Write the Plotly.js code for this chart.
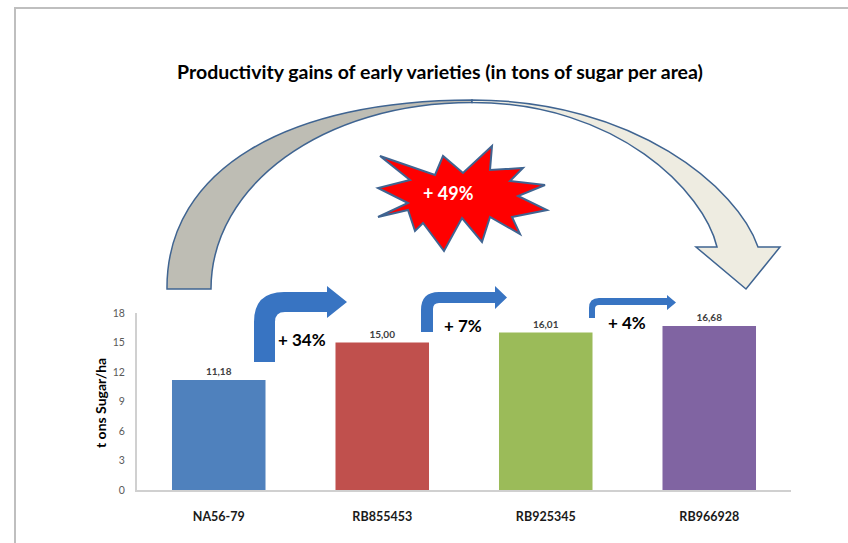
<!DOCTYPE html>
<html>
<head>
<meta charset="utf-8">
<script src="https://cdn.plot.ly/plotly-3.0.1.min.js"></script>
<style>
  html, body { margin: 0; padding: 0; background: #fff; }
  #chart { width: 848px; height: 543px; }
</style>
</head>
<body>
<div id="chart"></div>
<script>
// Early sugarcane varieties and their sugar yield (t/ha)
const varieties = ['NA56-79', 'RB855453', 'RB925345', 'RB966928'];
const sugarYield = [11.18, 15.00, 16.01, 16.68];
const barColors = ['#4F81BD', '#C0504D', '#9BBB59', '#8064A2'];
const yTicks = [0, 3, 6, 9, 12, 15, 18];

const W = 848, H = 543;
const FONT = 'Lato, "Open Sans", sans-serif';

// Pixel -> paper helpers (margins are zero, so paper == canvas)
const fx = x => x / W;
const fy = y => 1 - y / H;
function toPaper(d) {
  let i = 0;
  return d.replace(/-?\d+(\.\d+)?/g, n => (i++ % 2 === 0 ? fx(+n) : fy(+n)).toFixed(5));
}

// Value labels with a decimal comma
const valueLabels = sugarYield.map(v => v.toFixed(2).replace('.', ','));

// Relative gains between successive varieties and overall
const gain = (a, b) => '+ ' + Math.round((b / a - 1) * 100) + '%';
const stepGains = sugarYield.slice(1).map((v, i) => gain(sugarYield[i], v));
const totalGain = gain(sugarYield[0], sugarYield[sugarYield.length - 1]);

// Plot area in pixels
const PL = 137, PR = 791, PT = 313, PB = 490;

const trace = {
  type: 'bar',
  x: varieties,
  y: sugarYield,
  marker: { color: barColors },
  text: valueLabels,
  textposition: 'outside',
  cliponaxis: false,
  textfont: { family: FONT, size: 10, color: '#404040', weight: 'bold' },
  hoverinfo: 'x+y'
};

// Bent-up arrow outline between bars
function bentArrow(a) {
  const hc = (a.headTop + a.headBot) / 2;
  return `M ${a.x0} ${a.yb} L ${a.x0} ${a.top + a.ro} Q ${a.x0} ${a.top} ${a.x0 + a.ro} ${a.top} ` +
    `L ${a.hx} ${a.top} L ${a.hx} ${a.headTop} L ${a.tip} ${hc} L ${a.hx} ${a.headBot} ` +
    `L ${a.hx} ${a.bot} L ${a.x1 + a.ri} ${a.bot} Q ${a.x1} ${a.bot} ${a.x1} ${a.bot + a.ri} L ${a.x1} ${a.yb} Z`;
}
const stepArrows = [
  { x0: 254, x1: 275, yb: 362, top: 292, bot: 312, hx: 327, headTop: 286, headBot: 318, tip: 347, ro: 30, ri: 10 },
  { x0: 421, x1: 433, yb: 332, top: 292, bot: 303, hx: 495, headTop: 286, headBot: 309, tip: 507, ro: 18, ri: 6 },
  { x0: 589, x1: 595, yb: 318, top: 298, bot: 305, hx: 667, headTop: 295, headBot: 310, tip: 676, ro: 10, ri: 4 }
];
const stepLabelPos = [[302, 339], [463, 325], [627, 322]];

// Starburst vertices (outer, inner alternating)
const starPts = [
  [380, 156], [435, 175], [443, 156], [463, 173], [492, 146], [490, 170],
  [523, 168], [510, 181], [545, 185], [518, 196], [547, 210], [512, 217],
  [520, 234], [490, 217], [482, 242], [462, 218], [444, 251], [423, 223],
  [415, 231], [408, 210], [378, 217], [408, 203], [378, 188], [410, 180]
];
const starPath = 'M ' + starPts.map(p => p[0] + ' ' + p[1]).join(' L ') + ' Z';

// Large curved arrow: back face (left) and front face with head (right)
const arcBack = 'M 167 289 C 166 168 290 100 472 100 L 472 102.5 C 322 102.5 211 186 211 289 Z';
const arcFront = 'M 472 100 C 635 100 738 188 758 247 L 780 247 L 746 289 L 696 247 L 717 247 C 704 192 618 102.5 472 102.5 Z';

const outline = '#3F6491';
const shapes = [
  { type: 'path', xref: 'paper', yref: 'paper', path: toPaper('M 15 543 L 15 8 L 848 8'),
    line: { color: '#BFBFBF', width: 2 } },
  { type: 'path', xref: 'paper', yref: 'paper', path: toPaper(arcBack),
    fillcolor: '#BEBDB4', line: { color: outline, width: 1.5 } },
  { type: 'path', xref: 'paper', yref: 'paper', path: toPaper(arcFront),
    fillcolor: '#EEECE1', line: { color: outline, width: 1.5 } },
  { type: 'path', xref: 'paper', yref: 'paper', path: toPaper(starPath),
    fillcolor: '#FF0000', line: { color: outline, width: 2 } }
].concat(stepArrows.map(a => ({
  type: 'path', xref: 'paper', yref: 'paper', path: toPaper(bentArrow(a)),
  fillcolor: '#3874C2', line: { width: 0 }
})));

const annotations = [
  { text: 't ons Sugar/ha', x: fx(100), y: fy(403), xref: 'paper', yref: 'paper',
    textangle: -90, showarrow: false, xanchor: 'center', yanchor: 'middle',
    font: { family: FONT, size: 14, color: '#000', weight: 'bold' } },
  { text: totalGain, x: fx(449), y: fy(193), xref: 'paper', yref: 'paper',
    showarrow: false, xanchor: 'center', yanchor: 'middle',
    font: { family: FONT, size: 18, color: '#FFFFFF', weight: 'bold' } }
].concat(stepGains.map((g, i) => ({
  text: g, x: fx(stepLabelPos[i][0]), y: fy(stepLabelPos[i][1]), xref: 'paper', yref: 'paper',
  showarrow: false, xanchor: 'center', yanchor: 'middle',
  font: { family: FONT, size: 17, color: '#000', weight: 'bold' }
})));

const layout = {
  width: W, height: H, autosize: false,
  margin: { l: 0, r: 0, t: 0, b: 0, pad: 0 },
  paper_bgcolor: '#FFFFFF',
  plot_bgcolor: 'rgba(0,0,0,0)',
  showlegend: false,
  bargap: 0.428,
  title: {
    text: 'Productivity gains of early varieties (in tons of sugar per area)',
    x: fx(440), xanchor: 'center', xref: 'paper',
    y: fy(72), yanchor: 'middle', yref: 'container',
    font: { family: FONT, size: 19.5, color: '#000', weight: 'bold' }
  },
  xaxis: {
    domain: [fx(PL), fx(PR)],
    type: 'category', range: [-0.5, 3.5],
    showline: true, linecolor: '#D0D0D0', linewidth: 2,
    ticks: '', showgrid: false, zeroline: false,
    ticklabelstandoff: 14,
    tickfont: { family: FONT, size: 12.5, color: '#1A1A1A', weight: 'bold' },
    fixedrange: true
  },
  yaxis: {
    domain: [fy(PB), fy(PT)],
    range: [0, 18], tickmode: 'array', tickvals: yTicks, ticktext: yTicks.map(String),
    showline: true, linecolor: '#D0D0D0', linewidth: 2,
    ticks: '', showgrid: false, zeroline: false,
    ticklabelstandoff: 8,
    tickfont: { family: FONT, size: 10.5, color: '#595959' },
    fixedrange: true
  },
  shapes: shapes,
  annotations: annotations
};

Plotly.newPlot('chart', [trace], layout, { displayModeBar: false, staticPlot: true });
</script>
</body>
</html>
